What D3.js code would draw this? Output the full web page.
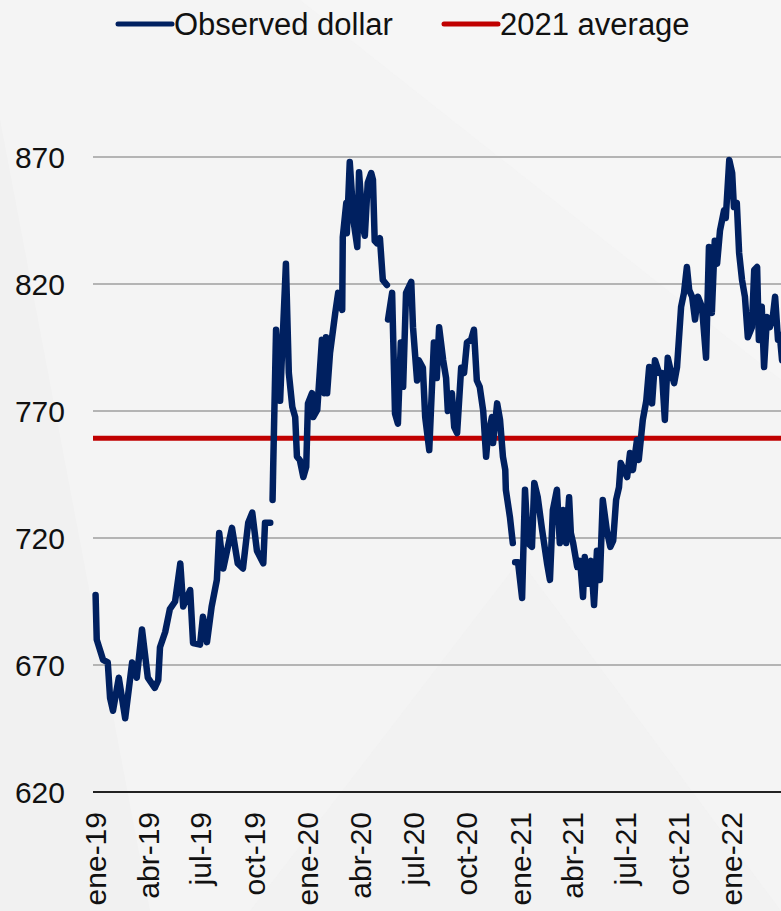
<!DOCTYPE html>
<html>
<head>
<meta charset="utf-8">
<script src="https://cdn.jsdelivr.net/npm/d3@7"></script>
<style>
  html, body { margin: 0; padding: 0; background: #f4f4f4; }
  svg { display: block; font-family: Arial, "Liberation Sans", sans-serif; }
</style>
</head>
<body>
<div id="chart"></div>
<script>
// days since 1 Jan 2019 and observed dollar (CLP per USD)
// null = gap in the series
var days = [1, 3, 14, 22, 26, 31, 41, 52, 64, 72, 81, 91, 103, 109, 112, 121, 129, 138, 147, 152,
  164, 169, 181, 186, 193, 201, 210, 214, 221, 236, 246, 255, 264, 271, 279, 290, 293, 302, 304,
  306, 307, 312, 319, 322, 329, 334, 340, 345, 348, 353, 359, 364, 367, 374, 376, 383, 391, 395,
  398, 400, 405, 414, 419, 426, 427, 433, 434, 439, 446, 452, 455, 462, 465, 470, 476, 479, 482,
  486, 491, 496, 503, 504, 505, 512, 517, 522, 527, 531, 536, 545, 548, 555, 558, 565, 569, 576,
  584, 589, 593, 600, 605, 608, 615, 619, 624, 631, 636, 641, 648, 653, 658, 663, 669, 674, 677,
  684, 686, 693, 698, 703, 707, 708, 715, 720, 722, 724, 729, 736, 741, 746, 753, 757, 763, 770,
  779, 784, 789, 796, 801, 807, 812, 817, 820, 824, 831, 836, 841, 844, 850, 855, 860, 865, 870,
  875, 882, 888, 893, 898, 903, 906, 917, 922, 927, 934, 937, 944, 950, 955, 960, 965, 972, 977,
  982, 987, 993, 998, 1003, 1010, 1015, 1020, 1024, 1029, 1034, 1039, 1046, 1053, 1058, 1063,
  1068, 1072, 1077, 1084, 1087, 1093, 1098, 1101, 1106, 1110, 1115, 1120, 1125, 1132, 1136, 1141,
  1144, 1149, 1153, 1158, 1163, 1168, 1172, 1177, 1180, 1184];

var dollar = [697.6, 680, 672, 671, 657, 652, 665, 649, 671, 665, 684, 665, 661, 664, 677, 683, 692, 695, 710, 693,
  699.5, 678.6, 678, 689, 679, 693, 703.5, 722, 708, 724, 710, 708, 726, 730, 715, 710, 726, 726, null,
  735, 747, 802, 774, 791, 828, 785, 771.6, 767.6, 752, 750.7, 744, 748, 773, 777, 767.6, 770.4, 798, 777,
  799, 777, 792.8, 808.6, 816.5, 809.8, 838.5, 851.9, 840, 868, 844, 834.6, 864, 842, 839, 859.8, 863.7, 861, 837,
  836, 838, 821.6, 819.6, null, 806, 816.5, 769, 765, 797, 779.5, 816.5, 820.8, 803, 782, 790, 787, 767.6, 754.6,
  797, 783, 803, 790, 783, 770, 777, 763.7, 761.3, 787, 785, 797, 798, 802, 782, 779.5, 770, 752, 759.8,
  767.6, 757.4, 773, 766.5, 752, 746.8, 739, 728.3, 718, null, 710.5, 710.5, 696.4, 739, 718, 716.5, 741.7, 736, 724,
  710, 703.5, 731, 739, 718, 731, 718, 736, 722, 718, 708.6, 711, 696.8, 712.5, 702, 711, 693.6, 715, 703.5, 735,
  723, 716.5, 719, 735, 740, 749.5, 744, 753.5, 746.8, 758.6, 750.7, 766.5, 774, 787.3, 773, 790, 785, 785, 766.5,
  791, 785, 781, 787.3, 811, 816.5, 826.7, 817.6, 815, 806, 815, 811, 791, 834.6, 808.6, 837,
  828, 841, 849, 846, 868.8, 863.7, 850.3, 851.9, 832.2, 821.6, 815, 799, 803, 825.5, 826.7, 798,
  811, 787.3, 807, 803, 807, 815, 798, 800, 790, 778, 775];

var average2021 = 759.27;

var tickDates = ["2019-01-01", "2019-04-01", "2019-07-01", "2019-10-01", "2020-01-01", "2020-04-01", "2020-07-01",
  "2020-10-01", "2021-01-01", "2021-04-01", "2021-07-01", "2021-10-01", "2022-01-01"];
var tickLabels = ["ene-19", "abr-19", "jul-19", "oct-19", "ene-20", "abr-20", "jul-20",
  "oct-20", "ene-21", "abr-21", "jul-21", "oct-21", "ene-22"];
var yTicks = [620, 670, 720, 770, 820, 870];

var legendItems = ["Observed dollar", "2021 average"];
var legendColors = ["#002060", "#c00000"];

var width = 781, height = 911;
var left = 93;

var parse = d3.timeParse("%Y-%m-%d");
var start = parse("2019-01-01");

var data = days.map(function(d, i) {
  return { date: d3.timeDay.offset(start, d), value: dollar[i] };
});

var svg = d3.select("#chart").append("svg")
    .attr("width", width)
    .attr("height", height);

// faint background shapes
var bg = svg.append("g");
bg.append("rect").attr("width", width).attr("height", height).attr("fill", "#f4f4f4");
bg.append("path").attr("d", "M0,120 L150,911 L0,911 Z").attr("fill", "#eeeeee").attr("opacity", 0.5);
bg.append("path").attr("d", "M300,0 L781,0 L781,380 Z").attr("fill", "#f7f7f7").attr("opacity", 0.5);
bg.append("path").attr("d", "M250,911 L520,560 L781,911 Z").attr("fill", "#f0f0f0").attr("opacity", 0.5);

var x = d3.scaleTime()
    .domain([parse("2019-01-01"), parse("2022-01-01")])
    .range([95, 731]);

var y = d3.scaleLinear()
    .domain([620, 870])
    .range([792, 157]);

// gridlines
svg.append("g")
  .selectAll("line")
  .data(yTicks.filter(function(d) { return d > 620; }))
  .enter().append("line")
    .attr("x1", left)
    .attr("x2", width)
    .attr("y1", function(d) { return y(d); })
    .attr("y2", function(d) { return y(d); })
    .attr("stroke", "#b4b4b4")
    .attr("stroke-width", 2);

// y labels
svg.append("g")
  .selectAll("text")
  .data(yTicks)
  .enter().append("text")
    .attr("x", 65)
    .attr("y", function(d) { return y(d); })
    .attr("dy", "0.36em")
    .attr("text-anchor", "end")
    .style("font-size", "30px")
    .attr("fill", "#111")
    .text(function(d) { return d; });

// x axis
var xAxis = d3.axisBottom(x)
    .tickValues(tickDates.map(parse))
    .tickSize(0)
    .tickFormat(function(d, i) { return tickLabels[i]; });

var gx = svg.append("g")
    .attr("transform", "translate(0," + y(620) + ")")
    .call(xAxis);
gx.select(".domain").remove();
gx.selectAll("text")
    .style("font-size", "30px")
    .style("font-family", "Arial, 'Liberation Sans', sans-serif")
    .attr("fill", "#111")
    .attr("text-anchor", "end")
    .attr("transform", "rotate(-90)")
    .attr("x", -20)
    .attr("y", 0)
    .attr("dy", "0.36em");

svg.append("line")
    .attr("x1", left)
    .attr("x2", width)
    .attr("y1", y(620))
    .attr("y2", y(620))
    .attr("stroke", "#222")
    .attr("stroke-width", 2);

// 2021 average
svg.append("line")
    .attr("x1", left)
    .attr("x2", width)
    .attr("y1", y(average2021))
    .attr("y2", y(average2021))
    .attr("stroke", legendColors[1])
    .attr("stroke-width", 5);

// observed dollar
var line = d3.line()
    .defined(function(d) { return d.value !== null; })
    .x(function(d) { return x(d.date); })
    .y(function(d) { return y(d.value); });

svg.append("path")
    .datum(data)
    .attr("d", line)
    .attr("fill", "none")
    .attr("stroke", legendColors[0])
    .attr("stroke-width", 6.5)
    .attr("stroke-linejoin", "round")
    .attr("stroke-linecap", "round");

// legend
var legendX = [116, 442];
var legend = svg.append("g")
  .selectAll("g")
  .data(legendItems)
  .enter().append("g")
    .attr("transform", function(d, i) { return "translate(" + legendX[i] + ",24)"; });

legend.append("line")
    .attr("x1", 2).attr("x2", 56)
    .attr("stroke", function(d, i) { return legendColors[i]; })
    .attr("stroke-width", 5)
    .attr("stroke-linecap", "round");

legend.append("text")
    .attr("x", 58)
    .attr("dy", "0.36em")
    .style("font-size", "31px")
    .attr("fill", "#111")
    .text(function(d) { return d; });
</script>
</body>
</html>
